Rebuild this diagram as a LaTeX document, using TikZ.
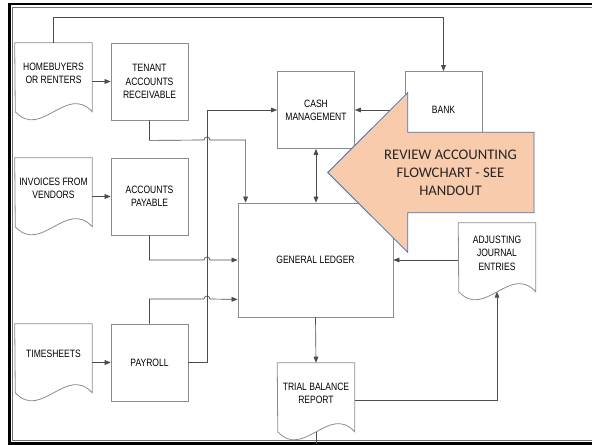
\documentclass[tikz,border=0pt]{standalone}
\usepackage{fontspec}
\newfontfamily\boxfont{Liberation Sans}[FakeStretch=0.8]
\newfontfamily\notefont{Carlito}
\usetikzlibrary{arrows.meta,calc}
\definecolor{peach}{HTML}{F8CBAD}
\definecolor{noteline}{HTML}{4A6FA5}
\tikzset{
  box/.style={draw=black!45, line width=0.6pt, minimum width=57.75pt, minimum height=57.75pt,
    inner sep=0pt, align=center, font=\boxfont\fontsize{8}{10}\selectfont},
  docnode/.style={minimum width=57.75pt, minimum height=45pt,
    inner sep=0pt, align=center, font=\boxfont\fontsize{8}{10}\selectfont},
  flow/.style={draw=black!70, line width=0.5pt, -{Triangle[length=4.5pt,width=3.6pt]}},
  twoway/.style={draw=black!70, line width=0.5pt,
    {Triangle[length=4.5pt,width=3.6pt]}-{Triangle[length=4.5pt,width=3.6pt]}},
  line/.style={draw=black!70, line width=0.5pt},
  note/.style={align=center, text=black!85, font=\notefont\fontsize{11}{13.3}\selectfont},
}
% document symbol with wavy bottom
\newcommand{\docshape}[1]{%
  \draw[black!45, line width=0.6pt] (#1.north west) -- (#1.north east) -- ++(0,69)
    .. controls +(-26,-28) and +(26,28) .. ++(-77,0) -- cycle;}

\begin{document}
\begin{tikzpicture}[x=0.75pt, y=-0.75pt]
  \useasboundingbox (0,0) rectangle (592,445);
  \draw[line width=2pt] (592,4) -| (9.6,443.5) -- (592,443.5);
  \draw[black!55, line width=0.6pt] (592,7.2) -| (12.8,440.3) -- (592,440.3);

  \node[docnode] (homebuyers) at (53.5,73) {HOMEBUYERS\\OR RENTERS};
  \node[docnode] (invoices) at (53.5,188) {INVOICES FROM\\VENDORS};
  \node[docnode] (timesheets) at (53.5,354) {TIMESHEETS};
  \node[docnode] (trial) at (316,393) {TRIAL BALANCE\\REPORT};
  \node[docnode] (adjusting) at (497,253) {ADJUSTING\\JOURNAL\\ENTRIES};
  \foreach \d in {homebuyers,invoices,timesheets,trial,adjusting} {\docshape{\d}}

  \node[box] (tenant) at (149.5,81.5) {TENANT\\ACCOUNTS\\RECEIVABLE};
  \node[box] (payable) at (149.5,196.5) {ACCOUNTS\\PAYABLE};
  \node[box] (payroll) at (149.5,362.5) {PAYROLL};
  \node[box] (cash) at (316,110) {CASH\\MANAGEMENT};
  \node[box] (bank) at (443.5,110) {BANK};
  \node[box, minimum width=116.25pt, minimum height=85.5pt] (ledger) at (315.5,260) {GENERAL LEDGER};

  \draw[flow] (homebuyers.east |- tenant.west) -- (tenant.west);
  \draw[flow] (invoices.east |- payable.west) -- (payable.west);
  \draw[flow] (timesheets.east |- payroll.west) -- (payroll.west);
  \draw[flow] (homebuyers.north) -- ++(0,-25) -| (bank.north);
  \draw[flow] (bank.west) -- (cash.east);
  \draw[flow] (payroll.east) -- ++(19,0) |- (cash.west);
  \draw[flow] (tenant.south) -- ++(0,20) -- (204,140) arc[start angle=180, end angle=360, radius=3]
    -| ($(ledger.north west)+(8,0)$);
  \draw[flow] (payable.south) |- (204,260) arc[start angle=180, end angle=360, radius=3] -- (ledger.west);
  \draw[flow] (payroll.north) |- (204,299) arc[start angle=180, end angle=360, radius=3]
    -- ($(ledger.south west)+(0,-18)$);
  \draw[twoway] (cash.south) -- (cash.south |- ledger.north);
  \draw[flow] (ledger.south) -- (trial.north);
  \draw[flow] (adjusting.west |- ledger.east) -- (ledger.east);
  \draw[flow] ($(trial.north east)+(0,38)$) -| ($(adjusting.north)+(0,69)$);
  \draw[line] ($(trial.north)+(0,69)$) -- ++(0,12);

  \draw[fill=peach, draw=noteline, line width=0.6pt] (327.7,172.5) -- (407.7,92.7) -- (407.7,132.3)
    -- (534,132.3) -- (534,212.7) -- (407.7,212.7) -- (407.7,252.3) -- cycle;
  \node[note] (review) at (450.5,173) {REVIEW ACCOUNTING\\FLOWCHART - SEE\\HANDOUT};
\end{tikzpicture}
\end{document}
